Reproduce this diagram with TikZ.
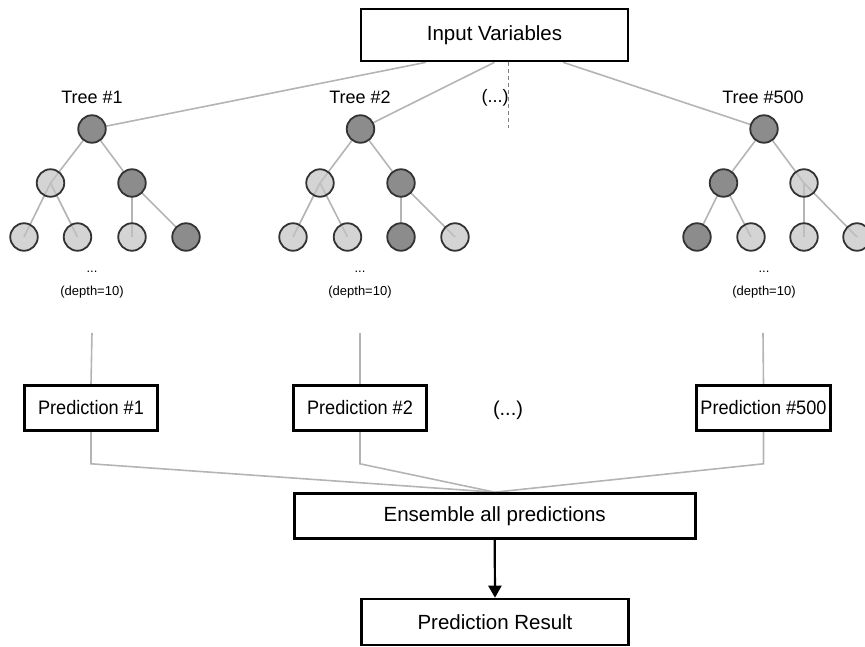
\documentclass[tikz,border=0pt]{standalone}
\usepackage{fontspec}
\setmainfont{Liberation Sans}
\newfontfamily\condfont[FakeStretch=0.93]{Liberation Sans}
\usetikzlibrary{arrows.meta,backgrounds}
\definecolor{darkfill}{HTML}{8C8C8C}
\definecolor{lightfill}{HTML}{C2C2C2}
\definecolor{circborder}{HTML}{333333}
\definecolor{connc}{HTML}{B4B4B4}
\begin{document}
\begin{tikzpicture}[x=1pt,y=-1pt,
  box/.style={draw=black, line width=2.6pt, fill=white, inner sep=0pt, font=\fontsize{20.5}{24}\selectfont},
  predbox/.style={box, minimum width=133pt, minimum height=45pt, font=\condfont\fontsize{19.5}{23}\selectfont},
  dk/.style={circle, draw=circborder, line width=1.8pt, fill=darkfill, minimum size=27.5pt, inner sep=0pt},
  lt/.style={circle, draw=circborder, line width=1.8pt, fill=lightfill, fill opacity=0.7, draw opacity=1, minimum size=27.5pt, inner sep=0pt},
  conn/.style={draw=connc, line width=1.6pt},
  treelabel/.style={font=\fontsize{18}{21}\selectfont, inner sep=0pt},
  small/.style={font=\fontsize{13}{15}\selectfont, inner sep=0pt}]
\useasboundingbox (0,0) rectangle (865,647);

% boxes
\node[box, minimum width=267pt, minimum height=52pt] (iv) at (494.5,35) {Input Variables};
\node[predbox] (p1) at (91,408) {Prediction \#1};
\node[predbox] (p2) at (360,408) {Prediction \#2};
\node[predbox, minimum width=134pt] (p500) at (763.5,408) {Prediction \#500};
\node[font=\fontsize{20}{23}\selectfont, inner sep=0pt] (pdots) at (508,410) {(...)};
\node[box, minimum width=401pt, minimum height=45pt] (ens) at (494.7,516) {Ensemble all predictions};
\node[box, minimum width=267pt, minimum height=46pt] (res) at (495,622) {Prediction Result};

% tree labels
\node[treelabel] (l1) at (92,97) {Tree \#1};
\node[treelabel] (l2) at (360,97) {Tree \#2};
\node[treelabel] (ldots) at (495,98) {(...)};
\node[treelabel] (l500) at (763,97) {Tree \#500};

% tree 1
\node[dk] (t1r) at (92,129) {};
\node[lt] (t1a) at (50.5,183) {};
\node[dk] (t1b) at (132,183) {};
\node[lt] (t1c) at (24,237) {};
\node[lt] (t1d) at (77.5,237) {};
\node[lt] (t1e) at (132,237) {};
\node[dk] (t1f) at (186,237) {};
% tree 2
\node[dk] (t2r) at (360.5,129) {};
\node[lt] (t2a) at (320,183) {};
\node[dk] (t2b) at (401,183) {};
\node[lt] (t2c) at (293,237) {};
\node[lt] (t2d) at (347.5,237) {};
\node[dk] (t2e) at (401,237) {};
\node[lt] (t2f) at (455,237) {};
% tree 500
\node[dk] (t5r) at (764,129) {};
\node[dk] (t5a) at (723.5,183) {};
\node[lt] (t5b) at (804,183) {};
\node[dk] (t5c) at (697,237) {};
\node[lt] (t5d) at (751,237) {};
\node[lt] (t5e) at (804,237) {};
\node[lt] (t5f) at (857,237) {};

% depth labels
\node[small] (e1) at (92,272) {...};
\node[small] (d1) at (92,292) {(depth=10)};
\node[small] (e2) at (360,272) {...};
\node[small] (d2) at (360,292) {(depth=10)};
\node[small] (e5) at (764,272) {...};
\node[small] (d5) at (764,292) {(depth=10)};

\coordinate (s1) at (92,333);
\coordinate (s2) at (360,333);
\coordinate (s5) at (763,333);

\begin{scope}[on background layer]
  \draw[conn] ([xshift=-68.5pt]iv.south) -- (t1r.center);
  \draw[conn] (iv.south) -- (t2r.center);
  \draw[conn] ([xshift=68.5pt]iv.south) -- (t5r.center);
  \draw[draw=gray, line width=1pt, dash pattern=on 4pt off 3pt] ([xshift=13.5pt]iv.south) -- ++(0,66);
  \foreach \t in {t1,t2,t5}{
    \draw[conn] (\t r.center) -- (\t a.center);
    \draw[conn] (\t r.center) -- (\t b.center);
    \draw[conn] (\t a.center) -- (\t c.center);
    \draw[conn] (\t a.center) -- (\t d.center);
    \draw[conn] (\t b.center) -- (\t e.center);
    \draw[conn] (\t b.center) -- (\t f.center);
  }
  \draw[conn] (s1) -- (p1.north);
  \draw[conn] (s2) -- (p2.north);
  \draw[conn] (s5) -- (p500.north);
  \draw[conn] (p1.south) -- ++(0,32) -- (ens.north);
  \draw[conn] (p2.south) -- ++(0,32) -- (ens.north);
  \draw[conn] (p500.south) -- ++(0,32) -- (ens.north);
\end{scope}

\draw[line width=2.2pt, -{Triangle[length=12pt,width=13pt]}] (ens.south) -- (res.north);
\end{tikzpicture}
\end{document}
